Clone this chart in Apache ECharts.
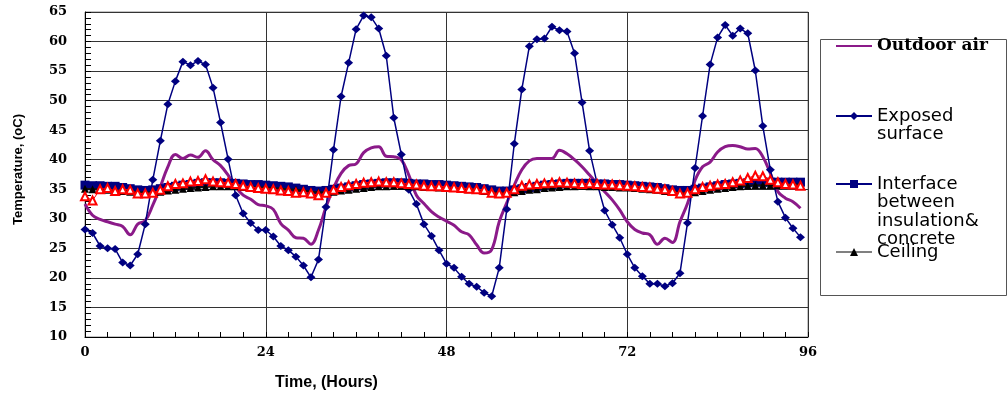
<!DOCTYPE html>
<html><head><meta charset="utf-8">
<script src="https://cdn.jsdelivr.net/npm/echarts@6/dist/echarts.min.js"></script>
<style>html,body{margin:0;padding:0;background:#fff}#c{width:1008px;height:398px}</style>
</head><body><div id="c"></div>
<script>
const hours = [0,1,2,3,4,5,6,7,8,9,10,11,12,13,14,15,16,17,18,19,20,21,22,23,24,25,26,27,28,29,30,31,32,33,34,35,36,37,38,39,40,41,42,43,44,45,46,47,48,49,50,51,52,53,54,55,56,57,58,59,60,61,62,63,64,65,66,67,68,69,70,71,72,73,74,75,76,77,78,79,80,81,82,83,84,85,86,87,88,89,90,91,92,93,94,95];

const outdoorAir = [32.5,30.6,29.9,29.5,29.1,28.7,27.3,29.1,29.7,32.3,
  35.4,38.8,40.9,40.2,40.8,40.4,41.5,40.0,39.0,37.4,
  35.4,34.0,33.3,32.4,32.2,31.6,29.2,28.1,26.8,26.7,
  25.7,28.1,32.0,35.2,37.7,39.0,39.3,41.2,42.0,42.2,
  40.6,40.5,40.0,37.4,34.0,32.6,31.2,30.3,29.6,28.9,
  27.8,27.3,25.6,24.2,24.8,29.5,32.7,35.7,38.3,39.8,
  40.2,40.2,40.2,41.6,41.0,40.0,38.8,37.4,36.0,34.6,
  33.2,31.5,29.5,28.2,27.6,27.3,25.7,26.7,26.0,29.5,
  32.6,36.5,38.8,39.6,41.3,42.2,42.4,42.2,41.8,41.9,
  40.5,37.7,34.6,33.5,32.9,31.8];

const exposedSurface = [28.2,27.6,25.4,25.0,24.9,22.6,22.1,24.0,29.1,36.6,
  43.2,49.4,53.3,56.6,56.0,56.7,56.1,52.2,46.3,40.1,
  34.0,30.9,29.3,28.1,28.1,27.0,25.4,24.7,23.6,22.1,
  20.1,23.1,32.0,41.7,50.7,56.4,62.1,64.4,64.1,62.2,
  57.6,47.1,40.9,34.9,32.5,29.1,27.1,24.7,22.4,21.7,
  20.2,19.0,18.5,17.5,16.9,21.7,31.6,42.7,51.9,59.2,
  60.4,60.5,62.5,61.9,61.7,58.0,49.7,41.5,36.0,31.4,
  29.0,26.8,24.0,21.7,20.3,19.0,19.0,18.6,19.1,20.8,
  29.3,38.6,47.4,56.1,60.7,62.8,61.0,62.2,61.4,55.1,
  45.7,38.3,32.9,30.2,28.4,26.9];

const interfaceTemp = [35.7,35.6,35.6,35.5,35.5,35.3,35.1,34.9,34.8,34.9,
  35.1,35.3,35.5,35.7,35.8,36.0,36.1,36.1,36.1,36.0,
  36.0,35.9,35.8,35.8,35.7,35.6,35.5,35.4,35.2,35.0,
  34.8,34.7,34.8,35.0,35.2,35.4,35.6,35.8,35.9,36.0,
  36.1,36.1,36.1,36.0,35.9,35.9,35.8,35.8,35.7,35.6,
  35.5,35.4,35.3,35.1,34.9,34.7,34.7,34.9,35.1,35.3,
  35.5,35.7,35.8,35.9,36.0,36.0,36.0,36.0,35.9,35.9,
  35.8,35.8,35.7,35.6,35.5,35.4,35.3,35.1,34.9,34.8,
  34.8,35.0,35.2,35.4,35.6,35.8,35.9,36.0,36.1,36.2,
  36.2,36.2,36.2,36.2,36.2,36.2];

const ceiling = [35.1,35.0,35.0,34.9,34.8,34.7,34.6,34.5,34.5,34.5,
  34.6,34.8,34.9,35.1,35.2,35.3,35.4,35.5,35.5,35.5,
  35.5,35.4,35.4,35.3,35.3,35.2,35.1,35.0,34.9,34.8,
  34.6,34.5,34.5,34.6,34.8,34.9,35.1,35.2,35.4,35.5,
  35.5,35.6,35.6,35.5,35.5,35.4,35.4,35.3,35.3,35.2,
  35.1,35.0,34.9,34.7,34.5,34.4,34.4,34.5,34.7,34.9,
  35.0,35.2,35.3,35.4,35.5,35.5,35.6,35.5,35.5,35.4,
  35.4,35.3,35.3,35.2,35.1,35.0,34.9,34.7,34.6,34.4,
  34.4,34.5,34.7,34.9,35.1,35.2,35.4,35.5,35.6,35.7,
  35.7,35.7,35.7,35.8,35.8,35.8];

const series5 = [33.8,33.1,35.0,35.2,34.7,35.0,34.9,34.3,34.3,34.4,
  34.9,35.5,35.9,36.0,36.3,36.4,36.7,36.3,36.2,36.1,
  35.9,35.6,35.4,35.2,35.1,35.0,34.8,34.7,34.4,34.5,
  34.3,34.0,34.4,34.9,35.4,35.7,35.9,36.1,36.2,36.3,
  36.2,36.2,36.0,35.9,35.8,35.6,35.5,35.5,35.4,35.3,
  35.2,35.1,35.0,34.9,34.4,34.3,34.4,35.0,35.6,35.8,
  35.9,36.0,36.1,36.2,36.1,36.0,35.9,36.0,35.9,35.8,
  35.8,35.7,35.6,35.5,35.4,35.3,35.1,35.0,34.7,34.3,
  34.4,35.0,35.4,35.6,35.8,35.9,36.2,36.5,36.9,37.3,
  37.2,36.6,36.2,35.9,35.8,35.6];

const xTicks = [0,24,48,72,96];
const yTicks = [10,15,20,25,30,35,40,45,50,55,60,65];

const seriesNames = ['Outdoor air','Exposed surface','Interface between insulation& concrete','Ceiling'];
const legendLabels = ['Outdoor air','Exposed\nsurface','Interface\nbetween\ninsulation&\nconcrete','Ceiling'];

function pairs(vals){ return hours.map((h,i)=>[h, vals[i]]); }

const chart = echarts.init(document.getElementById('c'), null, {renderer:'canvas'});
const LH = 18.5;
function legendFor(idx, centerY, textStyle, extra){
  const lines = legendLabels[idx].split('\n');
  const n = lines.length;
  // blank lines in front keep the icon level with the first text line
  const blank = [];
  for (let k = 1; k < n; k++) blank.push(' ');
  const label = blank.concat(lines).join('\n');
  return Object.assign({
    data:[seriesNames[idx]], orient:'vertical', left:835, top: centerY - (2*n-1)*LH/2,
    itemWidth:36, itemHeight:10, itemGap:0, padding:0, selectedMode:false,
    formatter: () => label,
    textStyle: Object.assign({color:'#000', lineHeight:LH}, textStyle)
  }, extra||{});
}
const option = {
  animation:false,
  backgroundColor:'#fff',
  grid:{left:85, right:200, top:12, bottom:61, show:true, borderColor:'#8a8a8a', borderWidth:1, containLabel:false},
  xAxis:{
    type:'value', min:xTicks[0], max:xTicks[xTicks.length-1], interval:xTicks[1]-xTicks[0],
    axisLine:{show:true, onZero:false, lineStyle:{color:'#000', width:1}},
    axisTick:{show:true, inside:true, length:5, lineStyle:{color:'#000'}},
    minorTick:{show:true, splitNumber:8, length:5, lineStyle:{color:'#000'}},
    splitLine:{show:true, lineStyle:{color:'#333', width:1}},
    axisLabel:{margin:9, color:'#000', fontFamily:'DejaVu Serif', fontWeight:'bold', fontSize:13},
    name:'Time, (Hours)', nameLocation:'middle', nameGap:38,
    nameTextStyle:{color:'#000', fontFamily:'Liberation Sans', fontWeight:'bold', fontSize:16, padding:[0,240,0,0]}
  },
  yAxis:{
    type:'value', min:yTicks[0], max:yTicks[yTicks.length-1], interval:yTicks[1]-yTicks[0],
    axisLine:{show:true, onZero:false, lineStyle:{color:'#000', width:1}},
    axisTick:{show:true, inside:true, length:6, lineStyle:{color:'#000'}},
    minorTick:{show:true, splitNumber:5, length:6, lineStyle:{color:'#000'}},
    splitLine:{show:true, lineStyle:{color:'#333', width:1}},
    axisLabel:{margin:18, color:'#000', fontFamily:'DejaVu Serif', fontWeight:'bold', fontSize:13},
    name:'Temperature, (oC)', nameLocation:'middle', nameGap:60,
    nameTextStyle:{color:'#000', fontFamily:'Liberation Sans', fontWeight:'bold', fontSize:13, padding:[0,0,0,10]}
  },
  legend:[
    legendFor(0, 46, {fontFamily:'DejaVu Serif', fontWeight:'bold', fontSize:17}, {itemStyle:{opacity:0}}),
    legendFor(1, 116, {fontFamily:'DejaVu Sans', fontSize:18}),
    legendFor(2, 184, {fontFamily:'DejaVu Sans', fontSize:18}),
    legendFor(3, 252, {fontFamily:'DejaVu Sans', fontSize:18}, {lineStyle:{color:'#808080'}})
  ],
  graphic:[{type:'rect', left:818, top:37, shape:{width:186, height:256}, style:{fill:'none', stroke:'#555', lineWidth:1}, silent:true}],
  series:[
    {name:seriesNames[0], type:'line', data:pairs(outdoorAir), symbol:'none', smooth:0.4,
     lineStyle:{color:'#8B1A89', width:3}, itemStyle:{color:'#8B1A89'}, z:2},
    {name:seriesNames[1], type:'line', data:pairs(exposedSurface), symbol:'diamond', symbolSize:[9,8],
     lineStyle:{color:'#000080', width:1.5}, itemStyle:{color:'#000080'}, z:3},
    {name:seriesNames[2], type:'line', data:pairs(interfaceTemp), symbol:'rect', symbolSize:9,
     lineStyle:{color:'#000080', width:2}, itemStyle:{color:'#000080'}, z:4},
    {name:seriesNames[3], type:'line', data:pairs(ceiling), symbol:'triangle', symbolSize:8,
     lineStyle:{color:'#111', width:2}, itemStyle:{color:'#000'}, z:5},
    {name:'Series5', type:'line', data:pairs(series5), symbol:'emptyTriangle', symbolSize:8,
     lineStyle:{color:'#ff0000', width:1}, itemStyle:{color:'#ff0000', borderColor:'#ff0000', borderWidth:1.5}, z:6}
  ]
};
chart.setOption(option);
</script>
</body></html>
